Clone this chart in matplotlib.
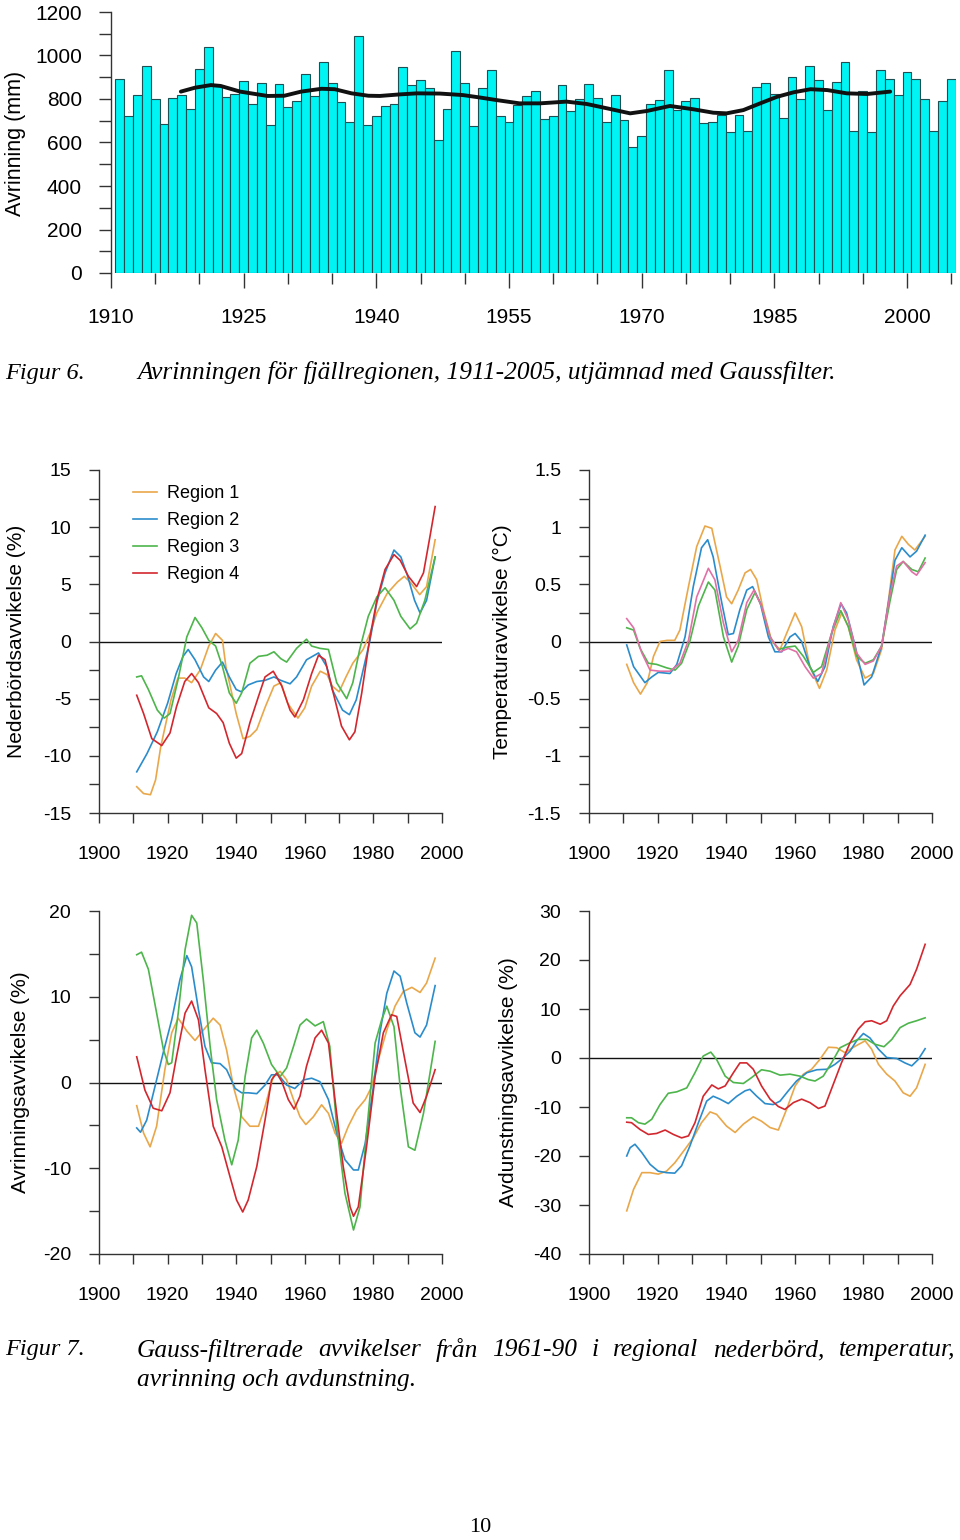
import numpy as np
import matplotlib
matplotlib.use("Agg")
import matplotlib.pyplot as plt
from matplotlib.ticker import MultipleLocator

plt.rcParams['font.family'] = ['Liberation Sans', 'DejaVu Sans']
plt.rcParams['axes.unicode_minus'] = False

# ---------------- Figur 6 data: yearly runoff, fjällregionen ----------------
bar_years = list(range(1911, 2006))
runoff_mm = [
    890, 723, 820, 950, 798, 686, 803, 820, 754, 938,
    1040, 862, 808, 823, 881, 778, 872, 679, 867, 765,
    791, 916, 815, 971, 872, 788, 694, 1090, 682, 720,
    768, 775, 948, 866, 887, 849, 611, 754, 1021, 874,
    677, 852, 935, 723, 694, 771, 812, 837, 710, 722,
    863, 745, 798, 870, 805, 696, 817, 702, 578, 630,
    775, 794, 935, 748, 792, 803, 688, 694, 728, 647,
    725, 654, 854, 874, 824, 713, 900, 801, 950, 889,
    749, 877, 971, 654, 835, 647, 935, 890, 817, 925,
    893, 801, 651, 791, 893,
]
gauss_years = [1917.9, 1919.5, 1921.3, 1922.4, 1924.6, 1927.7, 1929.6, 1931.5, 1933.8,
               1935.3, 1937.2, 1939.1, 1940.4, 1942.6, 1944.6, 1947.2, 1949.8, 1951.7,
               1953.6, 1956.2, 1958.5, 1961.5, 1963.8, 1966.1, 1968.7, 1970.6, 1973.2,
               1975.8, 1978.1, 1979.6, 1981.5, 1983.4, 1985.3, 1987.2, 1989.1, 1991.0,
               1993.2, 1995.5, 1998.1]
gauss_mm = [834, 852, 864, 860, 834, 814, 815, 834, 847,
            845, 826, 815, 814, 821, 826, 825, 818, 807,
            795, 780, 780, 788, 777, 757, 734, 745, 768,
            753, 737, 734, 749, 780, 810, 831, 845, 841,
            826, 823, 834]

# ---------------- Figur 7 data: Gauss-filtered deviations ----------------
region_labels = ["Region 1", "Region 2", "Region 3", "Region 4"]

# Nederbörd (%)
prec_r1_yr = [1911, 1913, 1915, 1916.5, 1918, 1921, 1923, 1925, 1927, 1929.5, 1932, 1934, 1936, 1937,
              1940, 1942, 1944, 1946, 1948.5, 1951, 1953, 1955, 1958, 1960, 1962, 1964.5, 1966.5, 1968,
              1970, 1972, 1974, 1977, 1979, 1981, 1984, 1987, 1989, 1991, 1993.5, 1995.5, 1998]
prec_r1 = [-12.7, -13.3, -13.4, -12.1, -9.2, -5.1, -3.2, -3.2, -3.6, -2.5, -0.4, 0.7, 0.1, -2.2,
           -6.3, -8.5, -8.3, -7.7, -5.7, -3.9, -3.6, -5.4, -6.7, -5.8, -3.9, -2.6, -2.9, -3.9,
           -4.4, -3.1, -1.9, -0.7, 0.7, 2.5, 4.2, 5.2, 5.7, 5.1, 4.1, 4.8, 8.9]
prec_r2_yr = [1911, 1914, 1917, 1920, 1922.5, 1924.5, 1926, 1928, 1930.5, 1932, 1934, 1936, 1938, 1940,
              1941.5, 1943.5, 1946, 1948.4, 1951, 1953, 1955.7, 1957.6, 1960.5, 1964, 1966.4, 1968,
              1971, 1973, 1975, 1977, 1979, 1981, 1983.4, 1986, 1988, 1990, 1992, 1993.6, 1995.5, 1998]
prec_r2 = [-11.4, -9.8, -7.9, -5.4, -2.8, -1.3, -0.7, -1.6, -3.1, -3.5, -2.5, -1.8, -3.1, -4.2,
           -4.4, -3.8, -3.5, -3.4, -3.1, -3.4, -3.7, -3.1, -1.6, -1.0, -2.2, -4.2,
           -6.0, -6.4, -5.1, -2.5, 0.1, 3.4, 6.0, 8.0, 7.4, 5.7, 3.6, 2.5, 3.6, 7.4]
prec_r3_yr = [1911, 1912.4, 1914.4, 1917, 1919, 1920.7, 1923, 1925.6, 1928, 1930, 1932, 1934, 1936, 1938,
              1940, 1941.6, 1944, 1946.5, 1949, 1951, 1953, 1954.7, 1957.6, 1960.5, 1962, 1964.4, 1966.9,
              1969.3, 1972.2, 1974, 1976, 1978.5, 1981, 1983.4, 1986, 1988, 1990.7, 1992.6, 1995, 1998]
prec_r3 = [-3.1, -3.0, -4.2, -6.0, -6.7, -6.3, -3.4, 0.4, 2.1, 1.2, 0.1, -0.4, -2.2, -4.5,
           -5.4, -4.5, -1.9, -1.3, -1.2, -0.9, -1.5, -1.8, -0.6, 0.2, -0.4, -0.6, -0.7,
           -3.6, -5.0, -3.6, -0.7, 2.2, 3.9, 4.7, 3.6, 2.2, 1.1, 1.6, 3.6, 7.4]
prec_r4_yr = [1911, 1913, 1915.4, 1918.3, 1920.7, 1922.6, 1925, 1927, 1929, 1932, 1934.3, 1936.2, 1938,
              1940, 1941.6, 1944, 1946.5, 1948.4, 1950.8, 1953.3, 1955.7, 1957.1, 1959.6, 1962, 1964,
              1965.9, 1968.3, 1970.7, 1973, 1974.6, 1976.6, 1979, 1981, 1983.4, 1986, 1987.8, 1990.2,
              1992.6, 1994.6, 1996.5, 1998]
prec_r4 = [-4.7, -6.3, -8.5, -9.1, -8.0, -5.7, -3.5, -2.8, -3.6, -5.8, -6.3, -7.1, -8.9,
           -10.2, -9.8, -7.1, -4.8, -3.1, -2.6, -3.9, -6.0, -6.6, -5.1, -2.8, -1.2,
           -1.6, -4.5, -7.4, -8.6, -7.9, -4.5, 0.4, 3.6, 6.3, 7.6, 7.1, 5.7,
           4.8, 6.0, 9.2, 11.8]

# Temperatur (°C)
temp_r1_yr = [1911, 1913, 1915, 1917, 1918.8, 1920.7, 1922.8, 1925, 1926.5, 1929, 1931.4, 1933.8, 1935.8,
              1938.2, 1940.1, 1941.6, 1943.5, 1945.5, 1947.1, 1948.9, 1950.8, 1953.3, 1955.7, 1957.6,
              1960.1, 1962, 1964.4, 1967.2, 1969.3, 1971.7, 1973.7, 1975.6, 1978, 1980.5, 1982.9,
              1985.3, 1987.3, 1989.2, 1991.2, 1993.1, 1995, 1998]
temp_r1 = [-0.20, -0.36, -0.46, -0.36, -0.13, 0.0, 0.01, 0.01, 0.10, 0.48, 0.83, 1.01, 0.99,
           0.66, 0.39, 0.33, 0.45, 0.60, 0.63, 0.54, 0.28, 0.0, -0.07, 0.07,
           0.25, 0.13, -0.22, -0.41, -0.25, 0.10, 0.25, 0.13, -0.16, -0.32, -0.28,
           -0.07, 0.36, 0.80, 0.92, 0.85, 0.80, 0.92]
temp_r2_yr = [1911, 1913, 1916.3, 1918.3, 1920.2, 1923.6, 1925.6, 1928, 1930.4, 1932.8, 1934.6, 1936.2,
              1938.7, 1940.6, 1942.1, 1944, 1946, 1947.7, 1949.9, 1952.3, 1954.2, 1956.2, 1958.6,
              1960.1, 1962, 1964.4, 1966.7, 1968.8, 1971.2, 1973.5, 1975.1, 1977.6, 1980.2, 1982.4,
              1985.3, 1987.3, 1989.2, 1991.2, 1993.6, 1995.5, 1998]
temp_r2 = [-0.03, -0.22, -0.36, -0.31, -0.27, -0.28, -0.20, 0.04, 0.48, 0.82, 0.89, 0.74,
           0.34, 0.06, 0.07, 0.28, 0.45, 0.48, 0.34, 0.04, -0.09, -0.09, 0.04,
           0.07, 0.0, -0.22, -0.35, -0.22, 0.13, 0.33, 0.25, -0.04, -0.38, -0.31,
           -0.04, 0.34, 0.71, 0.82, 0.74, 0.79, 0.93]
temp_r3_yr = [1911, 1913, 1914.9, 1917.3, 1919.7, 1922.6, 1925.1, 1927, 1929.4, 1931.9, 1934.8, 1936.7,
              1939.2, 1941.6, 1943.5, 1946, 1948.4, 1950.3, 1952.8, 1955.2, 1957.6, 1960.1, 1962.5,
              1965.4, 1967.8, 1970.7, 1973.4, 1975.6, 1978, 1980.5, 1982.9, 1985.3, 1987.8, 1989.7,
              1991.6, 1994.1, 1996, 1998]
temp_r3 = [0.12, 0.10, -0.06, -0.19, -0.20, -0.23, -0.25, -0.19, 0.0, 0.31, 0.52, 0.45,
           0.04, -0.18, -0.04, 0.28, 0.43, 0.31, 0.04, -0.07, -0.05, -0.04, -0.13,
           -0.27, -0.22, 0.07, 0.27, 0.13, -0.13, -0.19, -0.16, -0.04, 0.36, 0.63,
           0.70, 0.63, 0.61, 0.73]
temp_r4_yr = [1911, 1913, 1915.4, 1917.8, 1920.7, 1923.6, 1926.5, 1929, 1931.4, 1934.8, 1936.7, 1939.2,
              1941.6, 1943.5, 1946, 1948.1, 1950.3, 1952.8, 1955.7, 1958.1, 1960.5, 1963, 1965.4,
              1967.8, 1970.7, 1973.4, 1975.6, 1978, 1980.5, 1982.9, 1985.3, 1987.8, 1989.7, 1991.6,
              1994.1, 1995.5, 1998]
temp_r4 = [0.20, 0.12, -0.10, -0.25, -0.26, -0.26, -0.19, 0.01, 0.39, 0.64, 0.54, 0.16,
           -0.09, 0.01, 0.34, 0.45, 0.31, 0.04, -0.09, -0.06, -0.09, -0.22, -0.32,
           -0.28, 0.07, 0.34, 0.19, -0.10, -0.20, -0.17, -0.04, 0.42, 0.66, 0.70,
           0.61, 0.58, 0.69]

# Avrinning (%)
run_r1_yr = [1911, 1913, 1914.9, 1916.8, 1919.2, 1921.2, 1923.1, 1925.6, 1928, 1930.4, 1933.3, 1935.3,
             1937.2, 1939.2, 1941.6, 1944, 1946.5, 1948.4, 1950.8, 1952.8, 1954.7, 1956.7, 1958.6,
             1960.3, 1962.5, 1964.9, 1966.9, 1968.8, 1970.7, 1972.7, 1975.1, 1977.6, 1979.5, 1981.4,
             1983.9, 1986.3, 1988.7, 1991.2, 1993.6, 1995.5, 1998]
run_r1 = [-2.7, -5.9, -7.5, -5.1, 1.5, 5.8, 7.5, 6.0, 4.9, 6.1, 7.5, 6.7,
          3.8, -0.5, -4.0, -5.1, -5.1, -2.8, 0.7, 1.3, 0.3, -2.0, -4.0,
          -4.9, -4.0, -2.6, -3.6, -5.9, -7.1, -5.1, -3.2, -2.0, -0.5, 2.6,
          6.1, 8.9, 10.6, 11.1, 10.5, 11.6, 14.5]
run_r2_yr = [1911, 1912.1, 1913.9, 1916.3, 1918.8, 1921.2, 1923.6, 1925.6, 1927, 1929, 1930.9, 1932.8,
             1935.3, 1937.2, 1939.7, 1941.6, 1943.5, 1946, 1948.4, 1950.3, 1952.3, 1954.7, 1957.1,
             1959.6, 1962, 1964.4, 1966.9, 1969.3, 1971.7, 1974.2, 1975.6, 1977.6, 1980, 1981.9,
             1983.9, 1986, 1987.8, 1989.7, 1992.1, 1993.6, 1995.5, 1998]
run_r2 = [-5.3, -5.8, -4.4, -0.5, 3.6, 7.3, 12.0, 14.8, 13.5, 8.5, 4.2, 2.3,
          2.2, 1.5, -0.7, -1.2, -1.2, -1.3, -0.3, 0.9, 0.9, -0.3, -0.7,
          0.3, 0.5, 0.1, -2.0, -5.9, -9.0, -10.2, -10.2, -7.1, -0.5, 5.8,
          10.4, 13.0, 12.4, 9.3, 5.8, 5.3, 6.7, 11.3]
run_r3_yr = [1911, 1912.4, 1914.4, 1916.8, 1918.8, 1920.2, 1921.2, 1923.1, 1925.1, 1927, 1928.5, 1930.4,
             1932.4, 1934.3, 1936.7, 1938.7, 1940.6, 1942.6, 1944.5, 1946, 1947.9, 1950.3, 1952.8,
             1954.7, 1956.7, 1958.6, 1960.5, 1963, 1965.4, 1967.3, 1969.3, 1971.7, 1974.2, 1976.1,
             1978, 1980.5, 1982.4, 1983.9, 1986, 1987.8, 1990.2, 1992.1, 1994.6, 1998]
run_r3 = [14.9, 15.2, 13.2, 8.1, 3.8, 2.1, 2.3, 8.1, 15.5, 19.5, 18.6, 12.0,
          4.2, -2.0, -6.7, -9.6, -6.7, 0.7, 5.2, 6.1, 4.6, 2.1, 0.7,
          1.7, 4.2, 6.7, 7.4, 6.6, 7.1, 4.2, -5.1, -12.9, -17.2, -14.5,
          -5.9, 4.6, 7.3, 8.9, 6.5, -0.5, -7.5, -7.9, -3.6, 4.8]
run_r4_yr = [1911, 1913.4, 1915.8, 1918.3, 1920.7, 1922.6, 1925.1, 1927, 1929, 1930.9, 1933.3, 1935.8,
             1938.2, 1940.1, 1941.9, 1943.5, 1946, 1948.4, 1950.3, 1951.8, 1953.3, 1955.2, 1956.9,
             1958.6, 1960.5, 1963, 1964.9, 1966.9, 1968.8, 1971.2, 1973.2, 1974.2, 1975.6, 1978,
             1980.5, 1982.9, 1985.3, 1986.8, 1989.2, 1991.6, 1993.6, 1995.5, 1998]
run_r4 = [3.0, -0.9, -3.0, -3.3, -1.2, 3.0, 8.1, 9.5, 7.3, 1.5, -5.1, -7.5,
          -11.0, -13.7, -15.1, -13.7, -9.8, -4.4, 0.3, 1.1, 0.1, -2.0, -3.1,
          -1.6, 1.9, 5.2, 6.1, 4.6, -2.0, -9.8, -14.5, -15.6, -14.5, -7.5,
          0.7, 5.8, 7.9, 7.7, 2.6, -2.4, -3.5, -1.6, 1.5]

# Avdunstning (%)
evap_r1_yr = [1911, 1913, 1915.4, 1917.8, 1920.2, 1922.6, 1925, 1928, 1930.4, 1932.8, 1935.3, 1937.2,
              1940.1, 1942.6, 1945, 1947.9, 1950.3, 1952.8, 1955.2, 1957.6, 1960.1, 1962.5, 1964.9,
              1967.3, 1969.8, 1972.2, 1974.6, 1977.6, 1980.5, 1982.4, 1984.4, 1986.8, 1989.2, 1991.6,
              1993.6, 1995.5, 1998]
evap_r1 = [-31.2, -26.8, -23.4, -23.4, -23.7, -23.1, -21.4, -18.6, -16.3, -13.2, -11.0, -11.5,
           -13.9, -15.2, -13.5, -12.0, -12.9, -14.2, -14.7, -10.5, -5.7, -3.3, -2.3,
           -0.3, 2.2, 2.1, 1.1, 2.4, 3.5, 1.8, -1.3, -3.3, -4.7, -7.1,
           -7.8, -6.1, -1.3]
evap_r2_yr = [1911, 1912, 1913.4, 1915.4, 1917.8, 1920.2, 1922.6, 1925, 1927, 1929.4, 1931.9, 1934.3,
              1936.2, 1938.2, 1940.6, 1943.1, 1945.5, 1946.9, 1948.9, 1951.3, 1953.7, 1955.7, 1958.1,
              1960.5, 1963.5, 1966.4, 1969.3, 1971.7, 1974.2, 1976.1, 1978, 1980, 1981.9, 1984.4,
              1986.8, 1989.7, 1992.1, 1994.1, 1996, 1998]
evap_r2 = [-20.0, -18.3, -17.6, -19.3, -21.7, -23.1, -23.4, -23.5, -22.0, -18.0, -13.2, -8.8,
           -7.8, -8.4, -9.3, -7.8, -6.7, -6.4, -7.8, -9.3, -9.5, -8.8, -6.7,
           -4.7, -3.0, -2.4, -2.3, -1.3, 0.1, 1.4, 3.5, 5.0, 4.1, 1.8,
           0.1, -0.1, -1.0, -1.6, -0.3, 1.9]
evap_r3_yr = [1911, 1912.4, 1914.4, 1916.3, 1918.3, 1920.7, 1923.1, 1925.6, 1928.5, 1930.9, 1933.3,
              1935.5, 1937.2, 1939.7, 1942.1, 1945, 1947.4, 1950.3, 1952.8, 1955.7, 1958.6, 1961.5,
              1963.9, 1965.9, 1968.3, 1970.7, 1973.2, 1976.1, 1978.5, 1981, 1983.4, 1986, 1988.3,
              1990.7, 1993.1, 1995.5, 1998]
evap_r3 = [-12.2, -12.2, -13.2, -13.5, -12.5, -9.5, -7.2, -6.9, -6.1, -3.0, 0.4,
           1.2, -0.3, -3.7, -5.0, -5.2, -4.0, -2.4, -2.7, -3.5, -3.3, -3.7,
           -4.4, -4.7, -3.7, -1.0, 2.1, 3.1, 3.8, 3.8, 2.8, 2.3, 3.8,
           6.2, 7.1, 7.6, 8.2]
evap_r4_yr = [1911, 1912.4, 1914.9, 1917.3, 1919.7, 1922.2, 1924.6, 1927, 1929, 1930.9, 1933.3, 1935.8,
              1937.7, 1939.7, 1942.1, 1944, 1946, 1947.9, 1950.3, 1952.8, 1955.2, 1957.1, 1959.6,
              1962, 1964.4, 1966.9, 1968.8, 1971.2, 1973.6, 1976.1, 1978.5, 1980.5, 1982.4, 1984.9,
              1986.8, 1988.7, 1990.7, 1993.6, 1995.5, 1998]
evap_r4 = [-13.1, -13.2, -14.6, -15.6, -15.4, -14.7, -15.6, -16.3, -15.9, -13.2, -7.8, -5.5,
           -6.3, -5.7, -3.0, -1.0, -1.0, -2.3, -5.7, -8.4, -9.9, -10.5, -9.1,
           -8.4, -9.1, -10.3, -9.8, -5.4, -1.0, 3.1, 5.9, 7.4, 7.6, 6.9,
           7.6, 10.6, 12.7, 15.0, 18.1, 23.2]

region_colors = ["#E9A74A", "#2B8CCB", "#4DB54B", "#D2272E"]
temp_colors = ["#E9A74A", "#2B8CCB", "#4DB54B", "#E070A6"]

W, H = 960, 1540
fig = plt.figure(figsize=(W / 100, H / 100), dpi=100)


def px_axes(left, top, right, bottom):
    return fig.add_axes([left / W, 1 - bottom / H, (right - left) / W, (bottom - top) / H])


SPINE = "#333333"

# ---------------- Figur 6 ----------------
ax0 = px_axes(111, 12, 955.6, 273)
ax0.bar(bar_years, runoff_mm, width=1.0, color="#00F4F4", edgecolor="#1E4F52", linewidth=0.8)
ax0.plot(gauss_years, gauss_mm, color="#111111", linewidth=2.8, solid_capstyle="round")
ax0.set_xlim(1910, 2005.5)
ax0.set_ylim(0, 1200)
for s in ["top", "right", "bottom"]:
    ax0.spines[s].set_visible(False)
ax0.spines["left"].set_color(SPINE)
ax0.spines["left"].set_linewidth(1.0)
ax0.set_xticks(range(1910, 2001, 15))
ax0.xaxis.set_minor_locator(MultipleLocator(5))
ax0.yaxis.set_major_locator(MultipleLocator(200))
ax0.yaxis.set_minor_locator(MultipleLocator(100))
ax0.tick_params(axis="x", which="major", length=11, width=1.0, color=SPINE, labelsize=15, pad=14.5)
ax0.tick_params(axis="x", which="minor", length=8, width=1.0, color=SPINE)
ax0.tick_params(axis="y", which="both", length=9, width=1.0, color=SPINE, labelsize=15, pad=12)
fig.text(16 / W, 1 - 143 / H, "Avrinning (mm)", rotation=90, fontsize=15.5,
         ha="center", va="center")

SERIF = ["Liberation Serif", "DejaVu Serif"]
fig.text(5 / W, 1 - 373 / H, "Figur 6.", family=SERIF, style="italic", fontsize=17.5, va="center")
fig.text(137 / W, 1 - 373 / H, "Avrinningen för fjällregionen, 1911-2005, utjämnad med Gaussfilter.",
         family=SERIF, style="italic", fontsize=18.3, va="center")


# ---------------- Figur 7 ----------------
def style_panel(ax, ylim, major, minor, ylabel, label_x):
    ax.set_xlim(1900, 2000)
    ax.set_ylim(*ylim)
    for s in ["top", "right"]:
        ax.spines[s].set_visible(False)
    for s in ["left", "bottom"]:
        ax.spines[s].set_color(SPINE)
        ax.spines[s].set_linewidth(1.0)
    ax.xaxis.set_major_locator(MultipleLocator(20))
    ax.xaxis.set_minor_locator(MultipleLocator(10))
    ax.yaxis.set_major_locator(MultipleLocator(major))
    if minor:
        ax.yaxis.set_minor_locator(MultipleLocator(minor))
    ax.tick_params(axis="both", which="both", length=7, width=1.0, color=SPINE)
    ax.tick_params(axis="x", which="major", labelsize=14, pad=17)
    ax.tick_params(axis="y", which="major", labelsize=14, pad=13)
    ax.axhline(0, color="#111111", linewidth=1.0, zorder=1)
    bb = ax.get_position()
    fig.text(label_x / W, bb.y0 + bb.height / 2, ylabel, rotation=90, fontsize=15,
             ha="center", va="center")


ax1 = px_axes(99, 470, 442, 813)
for yr, v, c, lab in zip([prec_r1_yr, prec_r2_yr, prec_r3_yr, prec_r4_yr],
                         [prec_r1, prec_r2, prec_r3, prec_r4], region_colors, region_labels):
    ax1.plot(yr, v, color=c, linewidth=1.2, label=lab)
style_panel(ax1, (-15, 15), 5, 2.5, "Nederbördsavvikelse (%)", 17)
ax1.legend(loc="upper left", bbox_to_anchor=(0.077, 0.977), frameon=False, fontsize=13,
           handlelength=1.35, handletextpad=0.55, labelspacing=0.55, borderaxespad=0)

ax2 = px_axes(589, 470, 932, 813)
for yr, v, c in zip([temp_r1_yr, temp_r2_yr, temp_r3_yr, temp_r4_yr],
                    [temp_r1, temp_r2, temp_r3, temp_r4], temp_colors):
    ax2.plot(yr, v, color=c, linewidth=1.2)
style_panel(ax2, (-1.5, 1.5), 0.5, 0.25, "Temperaturavvikelse (°C)", 502)
ax2.yaxis.set_major_formatter(matplotlib.ticker.FuncFormatter(lambda v, p: f"{v:g}"))

ax3 = px_axes(99, 911, 442, 1254)
for yr, v, c in zip([run_r1_yr, run_r2_yr, run_r3_yr, run_r4_yr],
                    [run_r1, run_r2, run_r3, run_r4], region_colors):
    ax3.plot(yr, v, color=c, linewidth=1.2)
style_panel(ax3, (-20, 20), 10, 5, "Avrinningsavvikelse (%)", 21)

ax4 = px_axes(589, 911, 932, 1254)
for yr, v, c in zip([evap_r1_yr, evap_r2_yr, evap_r3_yr, evap_r4_yr],
                    [evap_r1, evap_r2, evap_r3, evap_r4], region_colors):
    ax4.plot(yr, v, color=c, linewidth=1.2)
style_panel(ax4, (-40, 30), 10, None, "Avdunstningsavvikelse (%)", 508)

# caption Figur 7, first line justified between x=137 and x=955
fig.text(5 / W, 1 - 1350 / H, "Figur 7.", family=SERIF, style="italic", fontsize=17.5, va="center")
words = ["Gauss-filtrerade", "avvikelser", "från", "1961-90", "i", "regional",
         "nederbörd,", "temperatur,"]
renderer = fig.canvas.get_renderer()
texts = [fig.text(0, 1 - 1350 / H, w, family=SERIF, style="italic", fontsize=18.3, va="center")
         for w in words]
widths = [t.get_window_extent(renderer).width for t in texts]
gap = (955 - 137 - sum(widths)) / (len(words) - 1)
x = 137
for t, w in zip(texts, widths):
    t.set_x(x / W)
    x += w + gap
fig.text(137 / W, 1 - 1380 / H, "avrinning och avdunstning.", family=SERIF, style="italic",
         fontsize=18.3, va="center")

fig.text(480 / W, 1 - 1528 / H, "10", family=SERIF, fontsize=16, ha="center", va="center")

fig.savefig("out.png", dpi=100)
